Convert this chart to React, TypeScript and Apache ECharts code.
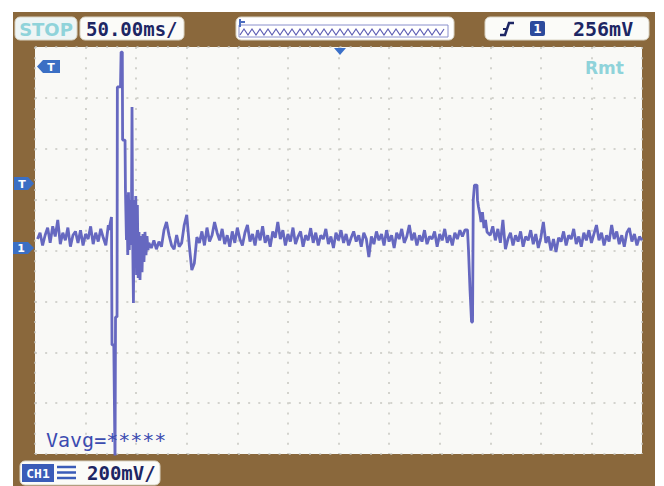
import React, { useEffect, useRef } from "react";
import * as echarts from "echarts";

// ---- axis scales (oscilloscope: 12 x 50 ms, 8 x 200 mV) ----
const TIME_MIN = -300;
const TIME_MAX = 300;
const TIME_DIV = 50;
const VOLT_MIN = -800;
const VOLT_MAX = 800;
const VOLT_DIV = 200;
const SAMPLE_STEP = 2.5; // ms between samples in the quiet stretches

// ---- texts ----
const runState = "STOP";
const timeBase = "50.00ms/";
const trigLevel = "256mV";
const trigChannel = "1";
const chLabel = "CH1";
const chScale = "200mV/";
const measurement = "Vavg=*****";
const remoteLabel = "Rmt";

// ---- trace (mV) ----
const noiseAStart = -297.5;
const noiseA = [45, 70, 20, 60, 90, 30, 95, 55, 120, 25, 70, 40, 90, 15, 60, 75, 30, 80, 20, 65, 45, 95, 25, 70, 35, 85, 50, 20, 100];

const event1: [number, number][] = [
  [-226.9, 81], [-225.4, 112], [-224.4, 132], [-223.9, -371], [-222.1, -371],
  [-220.9, -830], [-220.6, -830], [-220.4, -261], [-218.9, -261], [-218.6, 643],
  [-215.5, 643], [-214.9, 780], [-213.7, 780], [-213.4, 434], [-211.0, 434],
  [-210.6, 238], [-209.6, 41], [-209.1, 218], [-208.3, -18], [-207.6, 229],
  [-206.8, 2], [-206.1, 198], [-205.3, 22], [-204.6, 179], [-204.1, 564],
  [-203.5, 61], [-202.7, -206], [-202.0, 198], [-201.2, -69], [-200.4, 214],
  [-199.6, -96], [-198.8, 179], [-198.0, -108], [-197.2, 73], [-196.2, -116],
  [-195.2, 57], [-194.2, -85], [-193.3, 65], [-192.3, -45], [-191.3, 73],
  [-190.3, -18], [-189.3, 57], [-188.3, 2],
];

const noiseBStart = -187.5;
const noiseB = [
  30, 10, 40, 5, 35, 15,
  80, 112, 60,
  20, 5, 61, 15, 30,
  100, 140,
  20, -77, -50,
  53, 30, 75,
  20, 90, 35, 60,
  112, 70,
  40, 85, 25, 60, 15, 75, 30, 90, 45, 20, 70, 100, 35,
  65, 20, 80, 40, 95, 30, 60, 15, 75, 50, 112,
  45, 80, 20, 65, 35, 90, 25, 55, 75, 15, 60, 40, 88,
  30, 70, 20, 60, 45, 85, 25, 55, 10, 70, 40, 80, 30, 65, 20, 50, 75, 35, 60, 15, 70, 45, -26,
  55, 25, 75, 40, 65, 20, 80, 35, 60, 10, 70, 45, 85, 30, 55, 100,
  40, 70, 20, 60, 35, 80, 25, 55, 45, 75, 15, 65, 40, 85, 30, 60, 20, 70, 45, 80, 55, 81,
];

const event2: [number, number][] = [
  [127.5, 81], [128.5, 2], [130.0, -155], [131.5, -281], [132.5, -281],
  [133.2, 198], [134.4, 257], [136.9, 257], [137.4, 198], [138.4, 171],
  [139.9, 140], [140.9, 112], [142.3, 151], [143.8, 88], [145.3, 120], [146.8, 73],
];

const noiseCStart = 150;
const noiseC = [
  60, 95, 40, 85, 30, 120, 5,
  45, 70, 20, 60, 35, 75, 15, 55, 40, 80, 25, 65, 10, 50, 112,
  30, 55, 0, 45, -6, 50,
  35, 75, 20, 60, 45, 85, 25, 55, 15, 70, 40, 80, 30, 65,
  100, 40, 70, 20, 60, 35, 100,
  45, 75, 25, 60, 15, 70, 88, 35, 65, 20, 55, 40,
];

function buildTrace(): [number, number][] {
  const seg = (start: number, vals: number[]) =>
    vals.map((v, i) => [start + i * SAMPLE_STEP, v] as [number, number]);
  return [
    ...seg(noiseAStart, noiseA),
    ...event1,
    ...seg(noiseBStart, noiseB),
    ...event2,
    ...seg(noiseCStart, noiseC),
  ];
}

const NAVY = "#1d2664";
const TAG_BLUE = "#3b6fc4";
const CYAN = "#8fd3da";
const BOX_FILL = "#fbfbf8";
const MONO = '"DejaVu Sans Mono", monospace';
const SANS = '"DejaVu Sans", sans-serif';

function txt(text: string, x: number, y: number, font: string, fill: string, align = "left") {
  return {
    type: "text",
    z: 100,
    x,
    y,
    style: {
      text,
      font,
      fill,
      textAlign: align,
      textVerticalAlign: "middle",
      align,
      verticalAlign: "middle",
    },
  };
}

function box(x: number, y: number, w: number, h: number, fill = BOX_FILL) {
  return {
    type: "rect",
    z: 90,
    shape: { x, y, width: w, height: h, r: 5 },
    style: { fill, stroke: "#d9d3c3", lineWidth: 1 },
  };
}

function buildGraphics() {
  const zig: number[][] = [];
  for (let x = 240, k = 0; x <= 447; x += 4, k++) zig.push([x, k % 2 === 0 ? 35 : 29]);
  return [
    // header
    box(15, 17, 62, 23, "#eef5f5"),
    txt(runState, 46, 29, `bold 18px ${SANS}`, CYAN, "center"),
    box(80, 17, 104, 23),
    txt(timeBase, 86, 29, `bold 19px ${MONO}`, NAVY),
    box(236, 17, 218, 23, "#ffffff"),
    { type: "rect", z: 95, shape: { x: 239, y: 25, width: 209, height: 12 }, style: { fill: "none", stroke: "#8a90cc", lineWidth: 1 } },
    { type: "polyline", z: 96, shape: { points: zig }, style: { stroke: "#5d5db4", lineWidth: 1.2, fill: "none" } },
    { type: "polyline", z: 96, shape: { points: [[240, 19], [240, 27]] }, style: { stroke: "#4a6cc0", lineWidth: 2, fill: "none" } },
    { type: "polyline", z: 96, shape: { points: [[240, 22], [245, 22]] }, style: { stroke: "#4a6cc0", lineWidth: 2, fill: "none" } },
    box(485, 17, 164, 23),
    { type: "polyline", z: 96, shape: { points: [[500, 35], [505, 35], [509, 23], [514, 23]] }, style: { stroke: NAVY, lineWidth: 2.5, fill: "none" } },
    { type: "polyline", z: 96, shape: { points: [[503, 29], [507, 29]] }, style: { stroke: NAVY, lineWidth: 2, fill: "none" } },
    { type: "rect", z: 95, shape: { x: 530, y: 21, width: 15, height: 15, r: 2 }, style: { fill: "#2c4a9c" } },
    txt(trigChannel, 537.5, 28.5, `bold 12px ${SANS}`, "#ffffff", "center"),
    txt(trigLevel, 573, 29, `bold 20px ${MONO}`, NAVY),
    // footer
    box(20, 461, 140, 24),
    { type: "rect", z: 95, shape: { x: 22, y: 464, width: 32, height: 18 }, style: { fill: "#3a5cb8" } },
    txt(chLabel, 38, 473, `bold 13px ${MONO}`, "#ffffff", "center"),
    { type: "polyline", z: 96, shape: { points: [[57, 467], [76, 467]] }, style: { stroke: "#3a5cb8", lineWidth: 2.5 } },
    { type: "polyline", z: 96, shape: { points: [[57, 472.5], [76, 472.5]] }, style: { stroke: "#3a5cb8", lineWidth: 2.5 } },
    { type: "polyline", z: 96, shape: { points: [[57, 478], [76, 478]] }, style: { stroke: "#3a5cb8", lineWidth: 2.5 } },
    txt(chScale, 87, 473, `bold 19px ${MONO}`, NAVY),
    // in-screen texts
    txt(measurement, 46, 440, `20px ${MONO}`, "#3c4cb0"),
    txt(remoteLabel, 585, 68, `bold 17px ${SANS}`, CYAN),
    // markers
    { type: "polygon", z: 95, shape: { points: [[14, 177], [28, 177], [34, 183.5], [28, 190], [14, 190]] }, style: { fill: TAG_BLUE } },
    txt("T", 22, 184, `bold 11px ${SANS}`, "#ffffff", "center"),
    { type: "polygon", z: 95, shape: { points: [[13, 242], [28, 242], [34, 248], [28, 254], [13, 254]] }, style: { fill: TAG_BLUE } },
    txt("1", 21, 248.5, `bold 11px ${SANS}`, "#ffffff", "center"),
    { type: "polygon", z: 95, shape: { points: [[37, 66.5], [43, 60], [60, 60], [60, 73], [43, 73]] }, style: { fill: TAG_BLUE } },
    txt("T", 51, 67, `bold 11px ${SANS}`, "#ffffff", "center"),
    { type: "polygon", z: 95, shape: { points: [[334, 48], [346, 48], [340, 55]] }, style: { fill: "#3b70c8" } },
  ];
}

export default function App() {
  const ref = useRef<HTMLDivElement>(null);
  useEffect(() => {
    if (!ref.current) return;
    const chart = echarts.init(ref.current, undefined, { renderer: "svg" });
    const grid = { color: "#c6c6c0", type: [2, 8.15], width: 1.5 };
    chart.setOption({
      animation: false,
      backgroundColor: "transparent",
      grid: {
        left: 35,
        top: 47,
        width: 607,
        height: 407,
        show: true,
        backgroundColor: "#f9f9f6",
        borderWidth: 0,
      },
      xAxis: {
        type: "value",
        min: TIME_MIN,
        max: TIME_MAX,
        interval: TIME_DIV,
        axisLine: { show: false },
        axisTick: { show: false },
        axisLabel: { show: false },
        splitLine: { show: true, lineStyle: grid },
      },
      yAxis: {
        type: "value",
        min: VOLT_MIN,
        max: VOLT_MAX,
        interval: VOLT_DIV,
        axisLine: { show: false },
        axisTick: { show: false },
        axisLabel: { show: false },
        splitLine: { show: true, lineStyle: grid },
      },
      series: [
        {
          type: "line",
          data: buildTrace(),
          symbol: "none",
          showSymbol: false,
          clip: true,
          lineStyle: { color: "#6668c0", width: 2.8, join: "bevel" },
          z: 5,
        },
      ],
      graphic: buildGraphics(),
    });
    return () => chart.dispose();
  }, []);

  return (
    <div style={{ position: "fixed", left: 0, top: 0, width: 664, height: 486, background: "#ffffff" }}>
      <div style={{ position: "absolute", left: 13, top: 12, width: 642, height: 474, background: "#8a683c" }} />
      <div ref={ref} style={{ position: "absolute", left: 0, top: 0, width: 664, height: 486 }} />
    </div>
  );
}
